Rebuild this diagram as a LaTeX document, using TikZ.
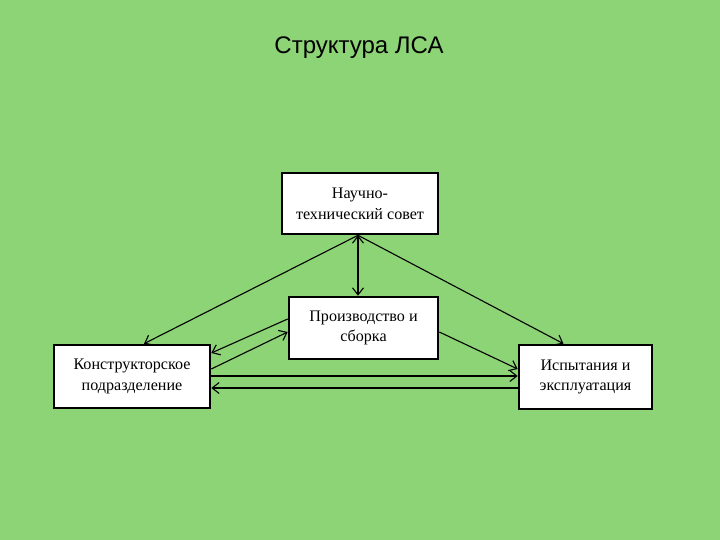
\documentclass[tikz,border=0pt]{standalone}
\usepackage{fontspec}
\setmainfont{Liberation Serif}
\newfontfamily\titlefont{Liberation Sans}
\usepackage{xcolor}
\usetikzlibrary{positioning,arrows.meta}

\definecolor{slidegreen}{RGB}{140,212,118}

\begin{document}
\begin{tikzpicture}[
    x=1pt, y=-1pt,
    unit/.style={draw, line width=2.6pt, fill=white, align=center,
        font=\fontsize{16.1}{20.8}\selectfont, inner sep=0pt},
    link/.style={-{Straight Barb[length=7pt,width=11pt]}, line width=1.1pt}
]
\fill[slidegreen] (0,0) rectangle (720,540);
\node[font=\titlefont\fontsize{24}{28}\selectfont] (title) at (359,48) {Структура ЛСА};

\node[unit, minimum width=156pt, minimum height=61pt] (nts) at (360,203.5) {Научно-\\технический совет};
\node[unit, minimum width=149pt, minimum height=62pt] (prod) at (363.5,328) {Производство и\\сборка};
\node[unit, minimum width=156pt, minimum height=63pt] (kb) at (132,376.5) {Конструкторское\\подразделение};
\node[unit, minimum width=133pt, minimum height=64pt] (isp) at (585.5,377) {Испытания и\\эксплуатация};

% council links
\draw[link] ([xshift=-2pt]nts.south) -- ([xshift=12pt]kb.north);
\draw[link] ([xshift=-2pt]nts.south) -- ([xshift=-22pt]isp.north);
\draw[link, {Straight Barb[length=7pt,width=11pt]}-{Straight Barb[length=7pt,width=11pt]}] ([xshift=-2pt]nts.south) -- ([xshift=-2pt]nts.south |- prod.north);

% production links
\draw[link] ([yshift=9pt]prod.west) -- ([yshift=23.5pt]kb.east);
\draw[link] ([yshift=7.5pt]kb.east) -- ([yshift=-4pt]prod.west);
\draw[link] ([yshift=-4pt]prod.east) -- ([yshift=8pt]isp.west);

% design - testing
\draw[link] ([yshift=0.5pt]kb.east) -- ([yshift=0.5pt]kb.east -| isp.west);
\draw[link] ([yshift=-11pt]isp.west) -- ([yshift=-11pt]isp.west -| kb.east);
\end{tikzpicture}
\end{document}
